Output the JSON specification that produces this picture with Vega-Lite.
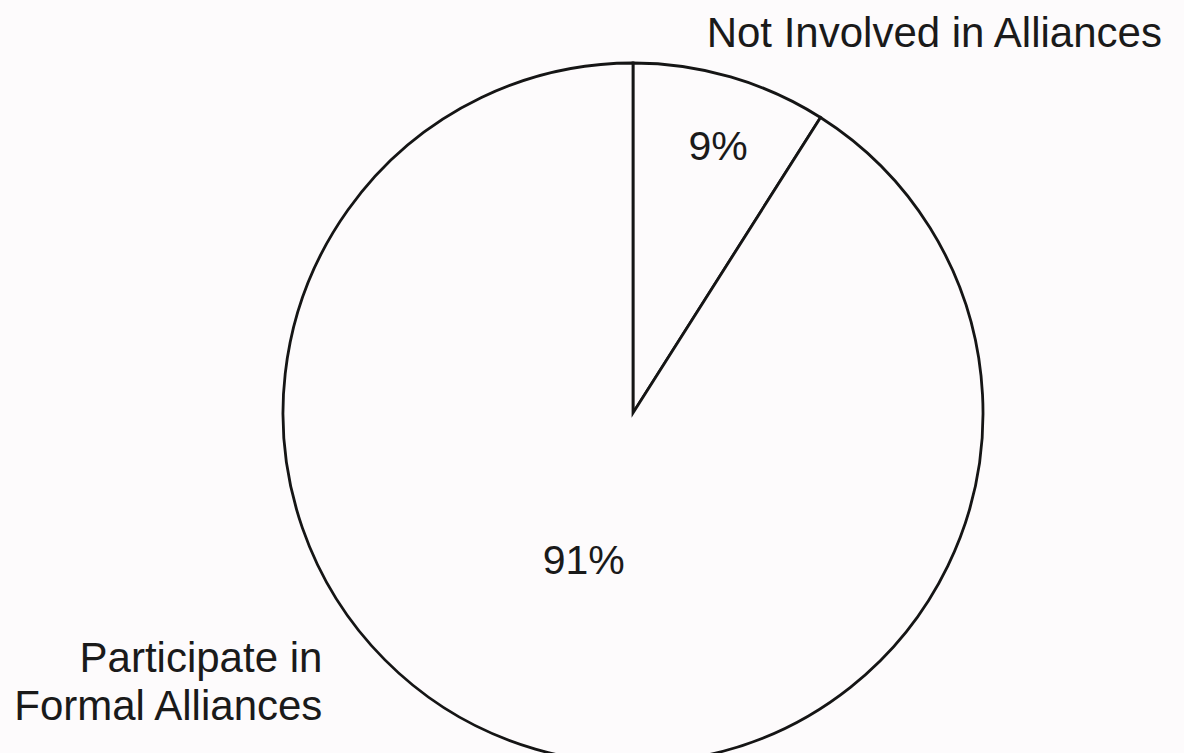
{
  "$schema": "https://vega.github.io/schema/vega-lite/v6.json",
  "autosize": {"type": "none"},
  "width": 1102,
  "height": 680,
  "padding": {"left": 82, "top": 73, "right": 0, "bottom": 0},
  "background": "#fdfbfc",
  "config": {"view": {"stroke": null}},
  "data": {
    "values": [
      {"category": "Not Involved in Alliances", "value": 9, "pct": "9%", "name": ["Not Involved in Alliances"]},
      {"category": "Participate in Formal Alliances", "value": 91, "pct": "91%", "name": ["Participate in", "Formal Alliances"]}
    ]
  },
  "encoding": {
    "theta": {"field": "value", "type": "quantitative", "stack": true}
  },
  "layer": [
    {
      "mark": {"type": "arc", "outerRadius": 350, "fill": "#fdfbfc", "stroke": "#151515", "strokeWidth": 2.8}
    },
    {
      "mark": {"type": "text", "radius": 276, "dx": 8, "fontSize": 41, "font": "Liberation Sans", "color": "#1a1a1a", "align": "center", "baseline": "middle"},
      "encoding": {"text": {"condition": {"test": "datum.value < 50", "field": "pct"}, "value": ""}}
    },
    {
      "mark": {"type": "text", "radius": 155, "dx": -6, "fontSize": 41, "font": "Liberation Sans", "color": "#1a1a1a", "align": "center", "baseline": "middle"},
      "encoding": {"text": {"condition": {"test": "datum.value > 50", "field": "pct"}, "value": ""}}
    },
    {
      "mark": {"type": "text", "radius": 350, "dx": -24, "dy": -30, "fontSize": 42, "font": "Liberation Sans", "color": "#1a1a1a", "align": "left", "baseline": "alphabetic"},
      "encoding": {"text": {"condition": {"test": "datum.value < 50", "field": "name"}, "value": ""}}
    },
    {
      "mark": {"type": "text", "radius": 350, "dx": -213, "dy": -77, "fontSize": 42, "lineHeight": 48, "font": "Liberation Sans", "color": "#1a1a1a", "align": "right", "baseline": "alphabetic"},
      "encoding": {"text": {"condition": {"test": "datum.value > 50", "field": "name"}, "value": ""}}
    }
  ]
}
